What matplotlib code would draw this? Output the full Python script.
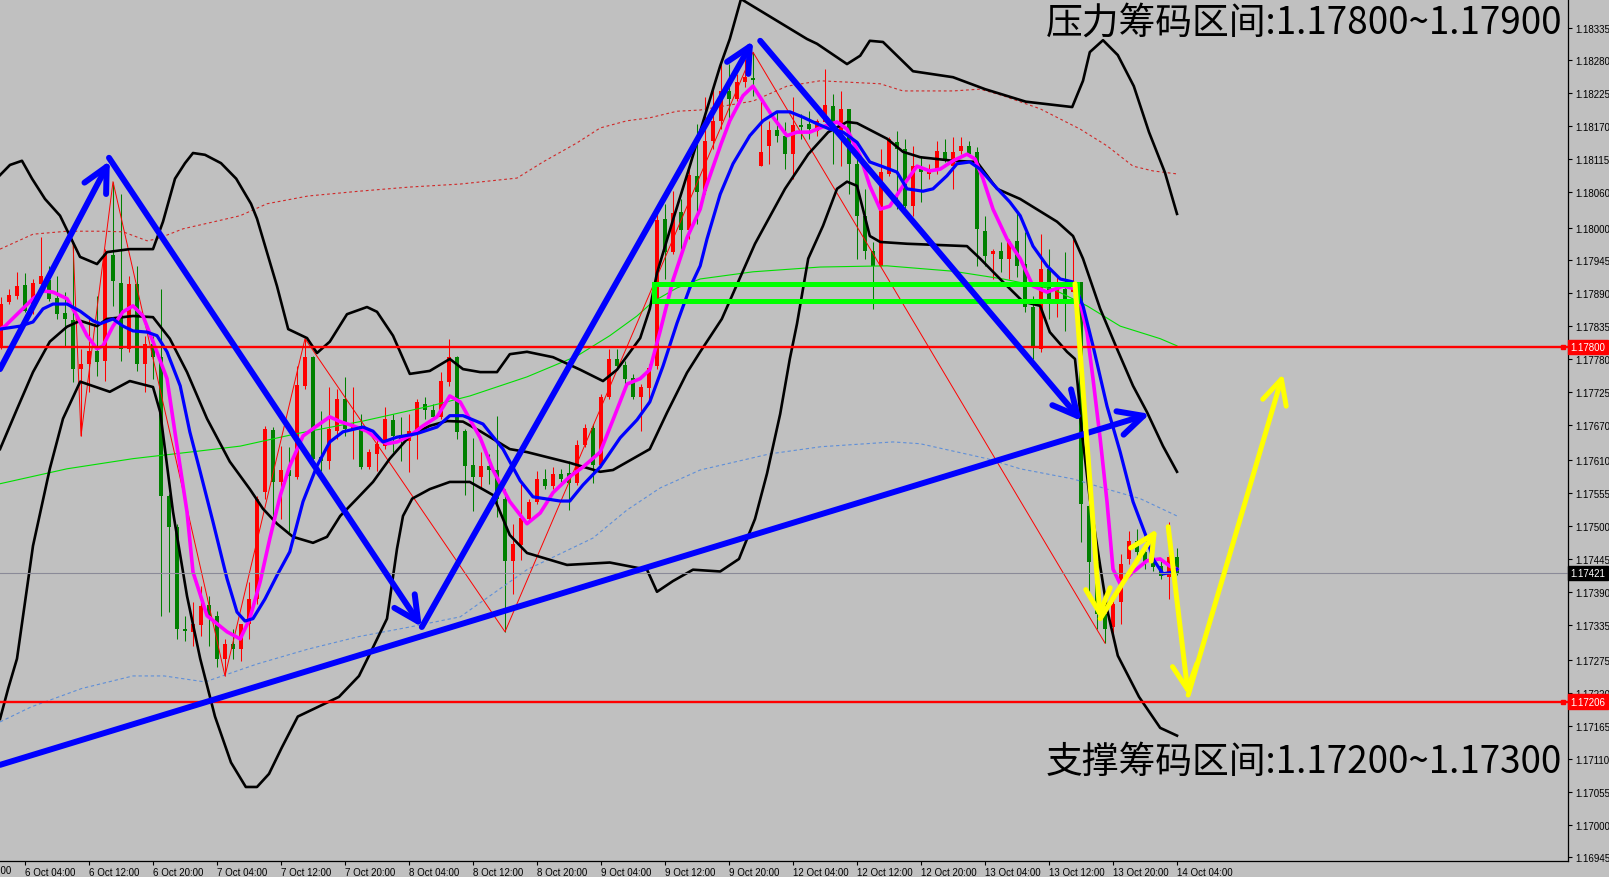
import numpy as np
import matplotlib
matplotlib.use("Agg")
import matplotlib.pyplot as plt
from matplotlib.patches import Rectangle

# ---------------- data (EURUSD H1) ----------------
opens = [1.17802, 1.17876, 1.17886, 1.17904, 1.17864, 1.17906, 1.17912, 1.17882, 1.17857, 1.17845,
         1.17763, 1.17772, 1.17794, 1.17777, 1.17954, 1.17907, 1.17797, 1.17906, 1.17772, 1.17805,
         1.17783, 1.17551, 1.17499, 1.17328, 1.17323, 1.17335, 1.17368, 1.17350, 1.17278, 1.17303,
         1.17294, 1.17336, 1.17378, 1.17557, 1.17661, 1.17574, 1.17594, 1.17583, 1.17735, 1.17783,
         1.17616, 1.17609, 1.17659, 1.17713, 1.17661, 1.17668, 1.17599, 1.17621, 1.17634, 1.17678,
         1.17653, 1.17643, 1.17658, 1.17705, 1.17695, 1.17683, 1.17742, 1.17783, 1.17659, 1.17603,
         1.17583, 1.17601, 1.17594, 1.17546, 1.17442, 1.17469, 1.17512, 1.17541, 1.17579, 1.17567,
         1.17588, 1.17589, 1.17572, 1.17636, 1.17665, 1.17603, 1.17716, 1.17780, 1.17770, 1.17748,
         1.17716, 1.17732, 1.17768, 1.18015, 1.17959, 1.18026, 1.17996, 1.18087, 1.18061, 1.18145,
         1.18179, 1.18229, 1.18215, 1.18244, 1.18251, 1.18103, 1.18137, 1.18164, 1.18154, 1.18123,
         1.18172, 1.18174, 1.18162, 1.18177, 1.18204, 1.18152, 1.18199, 1.18107, 1.18020, 1.17961,
         1.17936, 1.18090, 1.18143, 1.18132, 1.18036, 1.18102, 1.18090, 1.18095, 1.18127, 1.18103,
         1.18128, 1.18137, 1.18127, 1.17994, 1.17956, 1.17961, 1.17948, 1.17978, 1.17939, 1.17867,
         1.17797, 1.17931, 1.17881, 1.17897, 1.17892, 1.17909, 1.17534, 1.17440, 1.17353, 1.17331,
         1.17373, 1.17445, 1.17475, 1.17457, 1.17440, 1.17433, 1.17415, 1.17449]
highs = [1.17884, 1.17897, 1.17926, 1.17924, 1.17914, 1.17984, 1.17936, 1.17919, 1.17892, 1.17976,
         1.17797, 1.17852, 1.17886, 1.17964, 1.18077, 1.18056, 1.17919, 1.17936, 1.17819, 1.17819,
         1.17897, 1.17554, 1.17504, 1.17350, 1.17373, 1.17400, 1.17383, 1.17358, 1.17311, 1.17328,
         1.17331, 1.17407, 1.17551, 1.17668, 1.17666, 1.17634, 1.17633, 1.17768, 1.17814, 1.17785,
         1.17693, 1.17733, 1.17730, 1.17750, 1.17733, 1.17688, 1.17629, 1.17646, 1.17700, 1.17688,
         1.17683, 1.17688, 1.17713, 1.17716, 1.17705, 1.17758, 1.17814, 1.17785, 1.17663, 1.17648,
         1.17624, 1.17621, 1.17685, 1.17562, 1.17504, 1.17571, 1.17546, 1.17593, 1.17596, 1.17599,
         1.17596, 1.17609, 1.17644, 1.17671, 1.17671, 1.17721, 1.17797, 1.17797, 1.17777, 1.17755,
         1.17738, 1.17772, 1.18023, 1.18040, 1.18061, 1.18048, 1.18107, 1.18174, 1.18219, 1.18236,
         1.18277, 1.18274, 1.18257, 1.18283, 1.18294, 1.18215, 1.18179, 1.18195, 1.18177, 1.18219,
         1.18190, 1.18195, 1.18182, 1.18266, 1.18224, 1.18229, 1.18199, 1.18115, 1.18065, 1.17976,
         1.18132, 1.18152, 1.18162, 1.18149, 1.18137, 1.18120, 1.18107, 1.18145, 1.18149, 1.18152,
         1.18152, 1.18145, 1.18135, 1.18020, 1.17964, 1.17976, 1.17981, 1.18026, 1.17993, 1.17886,
         1.17989, 1.17964, 1.17919, 1.17959, 1.17981, 1.17909, 1.17537, 1.17445, 1.17370, 1.17381,
         1.17454, 1.17492, 1.17495, 1.17470, 1.17454, 1.17445, 1.17507, 1.17464]
lows = [1.17797, 1.17872, 1.17881, 1.17859, 1.17855, 1.17902, 1.17877, 1.17847, 1.17802, 1.17742,
        1.17651, 1.17725, 1.17752, 1.17743, 1.17869, 1.17777, 1.17792, 1.17760, 1.17725, 1.17747,
        1.17350, 1.17356, 1.17311, 1.17308, 1.17299, 1.17316, 1.17299, 1.17264, 1.17249, 1.17278,
        1.17274, 1.17311, 1.17370, 1.17546, 1.17512, 1.17512, 1.17490, 1.17579, 1.17730, 1.17609,
        1.17593, 1.17596, 1.17646, 1.17651, 1.17613, 1.17596, 1.17596, 1.17593, 1.17629, 1.17624,
        1.17609, 1.17591, 1.17613, 1.17680, 1.17680, 1.17680, 1.17735, 1.17646, 1.17552, 1.17526,
        1.17564, 1.17571, 1.17516, 1.17323, 1.17387, 1.17444, 1.17509, 1.17537, 1.17562, 1.17562,
        1.17574, 1.17527, 1.17569, 1.17633, 1.17572, 1.17599, 1.17713, 1.17763, 1.17738, 1.17713,
        1.17659, 1.17705, 1.17763, 1.17914, 1.17956, 1.17964, 1.17981, 1.18006, 1.18056, 1.18132,
        1.18165, 1.18182, 1.18212, 1.18236, 1.18221, 1.18103, 1.18107, 1.18143, 1.18098, 1.18082,
        1.18149, 1.18149, 1.18154, 1.18177, 1.18107, 1.18103, 1.18056, 1.17948, 1.17948, 1.17864,
        1.17936, 1.18087, 1.18031, 1.18031, 1.18020, 1.18043, 1.18082, 1.18090, 1.18110, 1.18065,
        1.18123, 1.18120, 1.17936, 1.17936, 1.17914, 1.17926, 1.17914, 1.17917, 1.17859, 1.17780,
        1.17792, 1.17847, 1.17850, 1.17827, 1.17892, 1.17474, 1.17383, 1.17328, 1.17304, 1.17311,
        1.17336, 1.17437, 1.17445, 1.17428, 1.17425, 1.17412, 1.17378, 1.17418]
closes = [1.17872, 1.17887, 1.17902, 1.17860, 1.17907, 1.17919, 1.17881, 1.17855, 1.17847, 1.17763,
          1.17772, 1.17794, 1.17775, 1.17956, 1.17911, 1.17797, 1.17906, 1.17772, 1.17805, 1.17783,
          1.17551, 1.17499, 1.17328, 1.17325, 1.17336, 1.17366, 1.17350, 1.17278, 1.17303, 1.17294,
          1.17336, 1.17378, 1.17546, 1.17663, 1.17574, 1.17594, 1.17584, 1.17737, 1.17783, 1.17613,
          1.17609, 1.17663, 1.17713, 1.17663, 1.17670, 1.17599, 1.17624, 1.17638, 1.17680, 1.17651,
          1.17644, 1.17659, 1.17708, 1.17695, 1.17683, 1.17743, 1.17783, 1.17658, 1.17601, 1.17583,
          1.17601, 1.17594, 1.17546, 1.17442, 1.17470, 1.17514, 1.17541, 1.17579, 1.17567, 1.17588,
          1.17579, 1.17572, 1.17636, 1.17665, 1.17603, 1.17716, 1.17780, 1.17768, 1.17747, 1.17716,
          1.17733, 1.17765, 1.18013, 1.17959, 1.18025, 1.17996, 1.18088, 1.18060, 1.18145, 1.18179,
          1.18229, 1.18215, 1.18244, 1.18252, 1.18247, 1.18127, 1.18164, 1.18154, 1.18123, 1.18172,
          1.18169, 1.18165, 1.18179, 1.18205, 1.18165, 1.18199, 1.18107, 1.18020, 1.17961, 1.17936,
          1.18093, 1.18149, 1.18132, 1.18036, 1.18103, 1.18093, 1.18098, 1.18128, 1.18115, 1.18127,
          1.18137, 1.18123, 1.17998, 1.17953, 1.17961, 1.17948, 1.17978, 1.17936, 1.17867, 1.17802,
          1.17931, 1.17881, 1.17897, 1.17881, 1.17902, 1.17537, 1.17440, 1.17353, 1.17328, 1.17370,
          1.17437, 1.17475, 1.17457, 1.17440, 1.17432, 1.17417, 1.17449, 1.17421]

# time axis labels (one every 8 H1 bars); bar 0 = 6 Oct 01:00
time_labels = ["5 Oct 20:00", "6 Oct 04:00", "6 Oct 12:00", "6 Oct 20:00", "7 Oct 04:00",
               "7 Oct 12:00", "7 Oct 20:00", "8 Oct 04:00", "8 Oct 12:00", "8 Oct 20:00",
               "9 Oct 04:00", "9 Oct 12:00", "9 Oct 20:00", "12 Oct 04:00", "12 Oct 12:00",
               "12 Oct 20:00", "13 Oct 04:00", "13 Oct 12:00", "13 Oct 20:00", "14 Oct 04:00"]
time_label_bar = [-5, 3, 11, 19, 27, 35, 43, 51, 59, 67, 75, 83, 91, 99, 107, 115, 123, 131, 139, 147]

price_ticks = [1.18335, 1.18280, 1.18225, 1.18170, 1.18115, 1.18060, 1.18000, 1.17945, 1.17890,
               1.17835, 1.17780, 1.17725, 1.17670, 1.17610, 1.17555, 1.17500, 1.17445, 1.17390,
               1.17335, 1.17275, 1.17220, 1.17165, 1.17110, 1.17055, 1.17000, 1.16945]

# Bollinger band (20) lines
bb_up_t = [-0.12, 1.12, 2.62, 3.88, 5.5, 7.38, 9.88, 12.0, 13.25, 16.1, 19.0, 20.25, 21.75, 23.0, 24.0,
           25.5, 27.5, 29.4, 31.25, 32.0, 34.5, 35.9, 38.25, 39.5, 41.1, 43.25, 45.75, 47.0, 49.0, 51.1,
           53.6, 56.1, 57.75, 59.9, 62.0, 63.6, 65.75, 69.0, 72.4, 75.25, 77.0, 79.9, 81.1, 82.0, 84.0,
           86.1, 87.75, 89.9, 91.1, 92.5, 94.25, 97.4, 99.25, 100.75, 102.0, 105.75, 107.4, 108.6, 110.25,
           114.0, 119.0, 123.0, 128.1, 133.9, 135.25, 136.1, 137.75, 139.6, 141.6, 143.5, 145.5, 147.0]
bb_up_v = [1.18088, 1.18105, 1.18112, 1.18082, 1.18048, 1.18020, 1.17951, 1.17939, 1.17959, 1.17964,
           1.17964, 1.18010, 1.18082, 1.18108, 1.18125, 1.18122, 1.18108, 1.18082, 1.18040, 1.18015,
           1.17902, 1.17830, 1.17815, 1.17790, 1.17809, 1.17855, 1.17867, 1.17859, 1.17819, 1.17755,
           1.17760, 1.17780, 1.17763, 1.17758, 1.17758, 1.17788, 1.17792, 1.17783, 1.17762, 1.17743,
           1.17762, 1.17815, 1.17864, 1.17924, 1.18013, 1.18103, 1.18177, 1.18271, 1.18316, 1.18383,
           1.18425, 1.18420, 1.18383, 1.18316, 1.18308, 1.18274, 1.18288, 1.18313, 1.18311, 1.18262,
           1.18252, 1.18232, 1.18211, 1.18202, 1.18246, 1.18294, 1.18314, 1.18289, 1.18237, 1.18160,
           1.18092, 1.18023]
bb_mid_t = [-0.12, 2.0, 4.0, 6.1, 8.25, 9.9, 12.0, 13.25, 16.5, 19.0, 21.1, 23.25, 25.75, 28.6, 31.1,
            32.75, 34.5, 36.5, 39.0, 40.75, 42.4, 44.5, 46.5, 48.6, 51.1, 53.6, 55.75, 57.75, 59.9, 63.6,
            65.75, 71.1, 74.9, 76.5, 81.1, 83.25, 85.75, 87.4, 90.1, 94.25, 98.0, 100.9, 103.4, 105.75,
            107.0, 110.75, 112.75, 114.9, 119.0, 122.0, 124.5, 127.4, 132.0, 134.0, 135.25, 137.4, 139.5,
            141.5, 143.25, 145.25, 147.0]
bb_mid_v = [1.17629, 1.17696, 1.17758, 1.17809, 1.17834, 1.17844, 1.17835, 1.17847, 1.17852, 1.17850,
            1.17814, 1.17758, 1.17680, 1.17608, 1.17562, 1.17529, 1.17504, 1.17482, 1.17472, 1.17482,
            1.17517, 1.17546, 1.17574, 1.17613, 1.17651, 1.17668, 1.17676, 1.17675, 1.17659, 1.17629,
            1.17624, 1.17606, 1.17591, 1.17594, 1.17629, 1.17690, 1.17757, 1.17792, 1.17847, 1.17973,
            1.18065, 1.18123, 1.18160, 1.18177, 1.18175, 1.18149, 1.18127, 1.18118, 1.18112, 1.18110,
            1.18065, 1.18048, 1.18010, 1.17986, 1.17948, 1.17864, 1.17797, 1.17735, 1.17691, 1.17634,
            1.17591]
bb_low_t = [-0.12, 0.9, 2.0, 4.0, 6.1, 7.75, 9.9, 13.6, 16.1, 19.0, 19.9, 21.5, 23.25, 24.9, 26.75,
            28.75, 30.6, 32.0, 33.5, 35.1, 37.1, 39.6, 42.25, 44.75, 46.0, 48.25, 49.5, 50.25, 51.4,
            53.6, 56.1, 58.6, 61.5, 63.6, 65.75, 70.75, 76.1, 80.75, 82.0, 84.0, 86.5, 89.9, 92.25,
            94.25, 95.75, 97.4, 98.6, 99.5, 100.9, 102.75, 104.5, 105.75, 107.0, 108.6, 109.9, 113.25,
            120.75, 122.4, 125.25, 127.75, 129.9, 131.1, 133.25, 134.25, 134.6, 135.1, 136.1, 137.4,
            138.25, 139.6, 142.25, 144.9, 147.0]
bb_low_v = [1.17177, 1.17228, 1.17278, 1.17467, 1.17596, 1.17680, 1.17742, 1.17725, 1.17743, 1.17733,
            1.17691, 1.17524, 1.17383, 1.17278, 1.17181, 1.17104, 1.17063, 1.17063, 1.17085, 1.17129,
            1.17181, 1.17197, 1.17214, 1.17249, 1.17283, 1.17345, 1.17462, 1.17517, 1.17546, 1.17562,
            1.17574, 1.17574, 1.17552, 1.17485, 1.17455, 1.17435, 1.17439, 1.17427, 1.17390, 1.17408,
            1.17427, 1.17424, 1.17445, 1.17512, 1.17588, 1.17688, 1.17780, 1.17839, 1.17948, 1.18003,
            1.18065, 1.18077, 1.18070, 1.17986, 1.17976, 1.17973, 1.17969, 1.17948, 1.17909, 1.17876,
            1.17869, 1.17825, 1.17792, 1.17780, 1.17735, 1.17658, 1.17546, 1.17433, 1.17361, 1.17283,
            1.17214, 1.17162, 1.17149]

# long-period envelope lines (red dotted upper, green middle, blue dotted lower)
rd_t = [-0.12, 4.0, 8.25, 12.4, 15.25, 18.25, 19.5, 22.75, 27.0, 29.9, 33.25, 38.4, 44.75, 51.1, 57.4,
        64.5, 67.75, 72.0, 74.9, 78.25, 81.1, 84.5, 87.4, 94.0, 98.25, 102.4, 109.9, 112.75, 119.0,
        122.4, 125.25, 129.9, 132.4, 134.9, 138.25, 141.5, 144.0, 147.0]
rd_v = [1.17964, 1.17989, 1.17994, 1.17994, 1.17993, 1.17978, 1.17981, 1.17998, 1.18011, 1.18020,
        1.18040, 1.18053, 1.18061, 1.18068, 1.18073, 1.18083, 1.18110, 1.18142, 1.18167, 1.18179,
        1.18184, 1.18195, 1.18197, 1.18212, 1.18237, 1.18246, 1.18241, 1.18229, 1.18229, 1.18232,
        1.18221, 1.18199, 1.18182, 1.18165, 1.18137, 1.18103, 1.18095, 1.18090]
gr_t = [-0.12, 8.25, 16.5, 24.9, 29.9, 37.0, 45.25, 53.6, 58.6, 65.75, 72.0, 76.1, 79.5, 81.5, 84.5,
        87.4, 94.0, 102.4, 110.75, 119.0, 125.25, 131.5, 135.75, 139.9, 144.9, 147.0]
gr_v = [1.17571, 1.17596, 1.17613, 1.17626, 1.17634, 1.17655, 1.17676, 1.17701, 1.17718, 1.17750,
        1.17785, 1.17819, 1.17852, 1.17876, 1.17899, 1.17914, 1.17926, 1.17934, 1.17936, 1.17927,
        1.17914, 1.17897, 1.17869, 1.17835, 1.17814, 1.17802]
bd_t = [-0.12, 3.75, 10.1, 16.5, 20.4, 25.5, 32.0, 38.4, 44.75, 51.1, 57.4, 65.75, 74.0, 78.25, 82.4,
        87.4, 96.1, 102.5, 111.5, 114.9, 123.25, 127.4, 134.0, 138.25, 142.4, 147.0]
bd_v = [1.17172, 1.17197, 1.17228, 1.17249, 1.17249, 1.17239, 1.17269, 1.17294, 1.17315, 1.17331,
        1.17348, 1.17427, 1.17480, 1.17527, 1.17564, 1.17594, 1.17621, 1.17633, 1.17641, 1.17638,
        1.17613, 1.17596, 1.17579, 1.17562, 1.17546, 1.17517]

# fast MA (magenta) and slow MA (blue)
mg_t = [-0.12, 0.5, 2.4, 4.0, 5.25, 6.5, 8.25, 9.5, 10.75, 12.0, 12.75, 14.0, 15.25, 16.5, 17.75, 19.0,
        20.75, 22.0, 23.25, 24.0, 25.75, 28.25, 29.9, 31.1, 32.4, 33.6, 34.9, 36.1, 37.75, 39.5, 41.1,
        42.4, 44.0, 45.75, 47.0, 48.25, 49.5, 51.1, 52.75, 54.5, 56.1, 57.4, 59.9, 61.5, 63.6, 65.75,
        67.4, 69.0, 71.1, 72.75, 74.9, 76.5, 78.25, 79.9, 81.1, 82.4, 84.0, 85.75, 87.4, 88.0, 90.0,
        91.1, 92.75, 94.0, 95.25, 96.5, 98.25, 99.5, 101.1, 102.75, 104.5, 105.75, 107.4, 108.6, 109.9,
        111.1, 112.75, 114.5, 116.1, 117.4, 119.0, 120.75, 121.75, 122.75, 124.0, 125.75, 127.4, 129.0,
        130.75, 132.75, 134.5, 135.75, 136.5, 137.4, 138.25, 139.0, 139.9, 141.5, 143.25, 144.9, 146.1,
        147.0]
mg_v = [1.17830, 1.17835, 1.17860, 1.17881, 1.17894, 1.17892, 1.17881, 1.17852, 1.17819, 1.17797,
        1.17802, 1.17835, 1.17859, 1.17869, 1.17852, 1.17809, 1.17747, 1.17634, 1.17524, 1.17423,
        1.17350, 1.17323, 1.17311, 1.17345, 1.17407, 1.17479, 1.17551, 1.17601, 1.17651, 1.17668,
        1.17683, 1.17675, 1.17668, 1.17659, 1.17646, 1.17638, 1.17641, 1.17651, 1.17668, 1.17683,
        1.17718, 1.17708, 1.17648, 1.17594, 1.17541, 1.17504, 1.17522, 1.17556, 1.17583, 1.17599,
        1.17624, 1.17678, 1.17738, 1.17747, 1.17762, 1.17827, 1.17912, 1.17983, 1.18031, 1.18063,
        1.18140, 1.18179, 1.18221, 1.18237, 1.18211, 1.18185, 1.18154, 1.18160, 1.18160, 1.18169,
        1.18177, 1.18165, 1.18120, 1.18070, 1.18031, 1.18036, 1.18070, 1.18103, 1.18095, 1.18098,
        1.18112, 1.18123, 1.18115, 1.18082, 1.18031, 1.17981, 1.17948, 1.17902, 1.17892, 1.17902,
        1.17897, 1.17825, 1.17747, 1.17646, 1.17541, 1.17428, 1.17403, 1.17423, 1.17442, 1.17445,
        1.17433, 1.17428]
bl_t = [-0.12, 2.4, 4.0, 5.25, 6.5, 8.25, 9.9, 11.5, 12.4, 14.0, 15.25, 16.5, 18.25, 19.5, 20.75, 22.4,
        23.6, 24.9, 26.5, 28.25, 29.5, 30.5, 31.5, 33.0, 34.6, 36.1, 37.75, 39.5, 41.1, 42.75, 45.25,
        46.5, 47.75, 49.5, 52.0, 54.5, 56.1, 57.75, 60.25, 62.75, 64.9, 66.5, 69.9, 71.1, 72.75, 74.9,
        77.4, 79.5, 81.1, 82.75, 84.5, 86.1, 87.4, 88.25, 89.9, 91.5, 93.6, 95.25, 97.0, 98.6, 100.25,
        102.0, 103.6, 105.25, 107.0, 108.6, 110.25, 112.0, 113.25, 115.25, 116.5, 118.25, 119.5, 121.1,
        122.4, 124.0, 126.1, 127.4, 129.0, 130.75, 132.4, 134.0, 135.25, 136.5, 138.25, 139.9, 141.5,
        143.25, 144.0, 145.25, 146.5, 147.0]
bl_v = [1.17830, 1.17835, 1.17842, 1.17864, 1.17872, 1.17872, 1.17860, 1.17844, 1.17839, 1.17847,
        1.17835, 1.17827, 1.17825, 1.17819, 1.17792, 1.17735, 1.17658, 1.17591, 1.17507, 1.17412,
        1.17356, 1.17341, 1.17345, 1.17378, 1.17420, 1.17457, 1.17541, 1.17601, 1.17641, 1.17658,
        1.17666, 1.17659, 1.17641, 1.17649, 1.17655, 1.17666, 1.17685, 1.17685, 1.17671, 1.17629,
        1.17576, 1.17549, 1.17542, 1.17542, 1.17569, 1.17599, 1.17648, 1.17678, 1.17708, 1.17768,
        1.17840, 1.17899, 1.17936, 1.17981, 1.18056, 1.18107, 1.18154, 1.18179, 1.18194, 1.18194,
        1.18185, 1.18174, 1.18165, 1.18160, 1.18143, 1.18110, 1.18102, 1.18093, 1.18065, 1.18061,
        1.18065, 1.18087, 1.18107, 1.18110, 1.18098, 1.18073, 1.18043, 1.18020, 1.17969, 1.17936,
        1.17914, 1.17909, 1.17869, 1.17802, 1.17701, 1.17624, 1.17541, 1.17479, 1.17445, 1.17420,
        1.17423, 1.17428]

# zigzag swing points
zz_t = [9, 10, 14, 28, 38, 63, 94, 138]
zz_v = [1.17976, 1.17651, 1.18077, 1.17249, 1.17814, 1.17323, 1.18294, 1.17304]

# hand-drawn objects: (bar0, price0, bar1, price1)
blue_arrows = [(-0.125, 1.17763, 13.6, 1.18112),
               (13.5, 1.18117, 52.6, 1.17331),
               (52.6, 1.17331, 94.0, 1.18313),
               (94.9, 1.18313, 135.1, 1.17676),
               (-0.125, 1.17100, 143.6, 1.17688)]
yellow_arrows = [(134.25, 1.17906, 137.4, 1.17345),
                 (137.4, 1.17345, 144.5, 1.17495),
                 (145.9, 1.17499, 148.4, 1.17217),
                 (148.4, 1.17217, 160.25, 1.17755)]
zone_bar0, zone_bar1 = 81.6, 134.5
zone_low, zone_high = 1.17877, 1.17906
resistance, support, bid = 1.17800, 1.17206, 1.17421
text_top = "压力筹码区间:1.17800~1.17900"
text_bottom = "支撑筹码区间:1.17200~1.17300"

# ---------------- drawing ----------------
BG = "#C0C0C0"
W, H = 1609, 878
fig = plt.figure(figsize=(W / 100, H / 100), dpi=100, facecolor=BG)
ax = fig.add_axes([0.0, 16 / H, 1568 / W, 862 / H])
ax.set_facecolor(BG)
ax.set_xlim(-0.125, 195.875)
ax.set_ylim(1.16939, 1.18383)

o = np.array(opens); hi = np.array(highs); lo = np.array(lows); c = np.array(closes)
t = np.arange(len(c))
col = np.where(c > o, "#FF0000", "#008000")
ax.vlines(t, lo, hi, colors=col, linewidth=0.75, zorder=2)
body_bot = np.minimum(o, c)
body_h = np.maximum(np.abs(c - o), 0.000015)
ax.bar(t, body_h, bottom=body_bot, width=0.62, color=col, linewidth=0, zorder=2)

ax.plot(rd_t, rd_v, color="#D02828", lw=0.8, ls=(0, (2.5, 2.5)), zorder=3)
ax.plot(bd_t, bd_v, color="#5F8FD8", lw=0.8, ls=(0, (3, 2.5)), zorder=3)
ax.plot(gr_t, gr_v, color="#00E000", lw=0.8, zorder=3)
ax.plot(zz_t, zz_v, color="#FF0000", lw=0.7, zorder=3)
for bt, bv in [(bb_up_t, bb_up_v), (bb_mid_t, bb_mid_v), (bb_low_t, bb_low_v)]:
    ax.plot(bt, bv, color="black", lw=1.9, zorder=3, solid_joinstyle="round")
ax.plot(mg_t, mg_v, color="#FF00FF", lw=2.6, zorder=3.2, solid_joinstyle="round")
ax.plot(bl_t, bl_v, color="#0000FF", lw=2.3, zorder=3.3, solid_joinstyle="round")

ax.axhline(bid, color="#8A8A98", lw=0.8, zorder=3.5)
for lvl in (resistance, support):
    ax.axhline(lvl, color="#FF0000", lw=1.7, zorder=4)
    ax.plot([195.3], [lvl], marker="s", ms=3.5, color="#FF0000", zorder=4.1, clip_on=False)

ax.add_patch(Rectangle((zone_bar0, zone_low), zone_bar1 - zone_bar0, zone_high - zone_low,
                       fill=False, edgecolor="#00FF00", lw=3.6, zorder=4.5))


def draw_arrow(a, color, lw):
    b0, p0, b1, p1 = a
    ax.annotate("", xy=(b1, p1), xytext=(b0, p0), xycoords="data", textcoords="data",
                annotation_clip=False, zorder=5,
                arrowprops=dict(arrowstyle="->,head_length=0.8,head_width=0.4", color=color,
                                lw=lw, shrinkA=0, shrinkB=0, mutation_scale=22))


for a in blue_arrows:
    draw_arrow(a, "#0000FF", 4.3)
for a in yellow_arrows:
    draw_arrow(a, "#FFFF00", 3.6)

# axes styling
for s in ("left", "top"):
    ax.spines[s].set_visible(False)
for s in ("right", "bottom"):
    ax.spines[s].set_color("black")
    ax.spines[s].set_linewidth(0.9)

ax.yaxis.tick_right()
ax.set_yticks(price_ticks)
ax.set_yticklabels([f"{v:.5f}" for v in price_ticks], fontsize=7, family="Liberation Sans")
ax.tick_params(axis="y", direction="out", length=3, pad=2, width=0.8, colors="black")

ax.set_xticks(time_label_bar[1:])
ax.set_xticklabels(time_labels[1:], fontsize=7, family="Liberation Sans")
for lab in ax.get_xticklabels():
    lab.set_horizontalalignment("left")
ax.tick_params(axis="x", direction="out", length=3, pad=1.5, width=0.8, colors="black")
ax.text(time_label_bar[0], -0.005, time_labels[0], transform=ax.get_xaxis_transform(),
        ha="left", va="top", fontsize=7, family="Liberation Sans", clip_on=False)

for lvl, fc in ((resistance, "#FF0000"), (support, "#FF0000"), (bid, "#000000")):
    ax.text(1.0016, lvl, f"{lvl:.5f}", transform=ax.get_yaxis_transform(), ha="left", va="center",
            fontsize=7, color="white", family="Liberation Sans", clip_on=False, zorder=10,
            bbox=dict(boxstyle="square,pad=0.22", fc=fc, ec=fc))

cjk = ["Noto Sans CJK SC", "DejaVu Sans"]
fig.text(1562 / W, 1 - 23 / H, text_top, ha="right", va="center", fontsize=26.5, family=cjk, color="black")
fig.text(1562 / W, 1 - 762 / H, text_bottom, ha="right", va="center", fontsize=26.5, family=cjk, color="black")

fig.savefig("out.png", dpi=100, facecolor=BG)
